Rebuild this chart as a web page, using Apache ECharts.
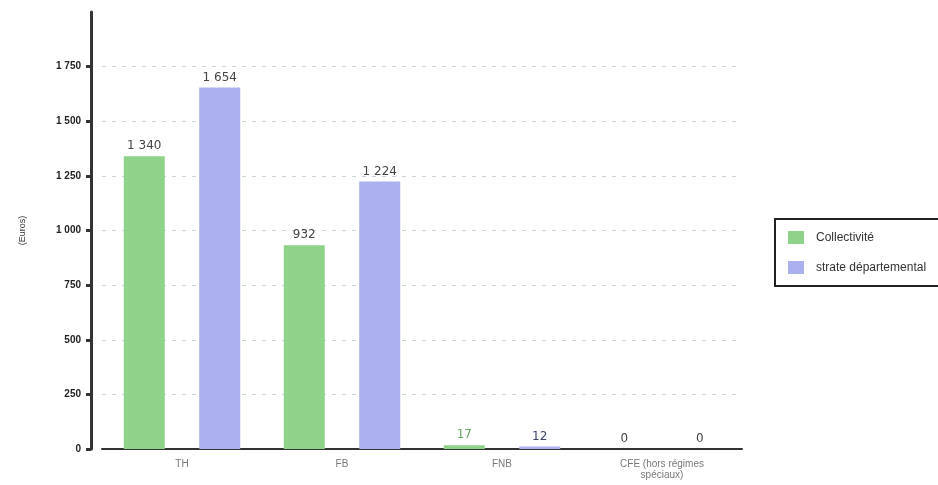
<!DOCTYPE html>
<html>
<head>
<meta charset="utf-8">
<script src="https://cdn.jsdelivr.net/npm/echarts@6/dist/echarts.min.js"></script>
<style>
  html, body { margin: 0; padding: 0; background: #fff; overflow: hidden; }
  #chart { width: 938px; height: 485px; }
</style>
</head>
<body>
<div id="chart"></div>
<script>
// Taxes per inhabitant: commune vs. departmental stratum
const categories = ['TH', 'FB', 'FNB', 'CFE (hors régimes\nspéciaux)'];
const collectivite = [1340, 932, 17, 0];
const strate = [1654, 1224, 12, 0];
const seriesNames = ['Collectivité', 'strate départemental'];

const GREEN = '#8fd38b';
const BLUE = '#abb0ee';
const GRID = '#c9d6d6';

// French-style thousands separator
function fmt(v) {
  return String(v).replace(/\B(?=(\d{3})+(?!\d))/g, ' ');
}

const chart = echarts.init(document.getElementById('chart'), null, { renderer: 'canvas' });

const labelBase = {
  show: true,
  position: 'top',
  distance: 4,
  fontFamily: 'DejaVu Sans',
  fontSize: 12,
  color: '#444',
  formatter: p => fmt(p.value)
};

// Tint labels of near-zero bars with the series tone
function withLabelTint(values, tint) {
  return values.map(v => (v > 0 && v < 100 ? { value: v, label: { color: tint } } : v));
}

chart.setOption({
  animation: false,
  textStyle: { fontFamily: 'Liberation Sans' },
  grid: { left: 102, right: 196, top: 12, bottom: 36, containLabel: false },
  legend: {
    orient: 'vertical',
    left: 775,
    top: 219,
    data: seriesNames,
    icon: 'rect',
    itemWidth: 16,
    itemHeight: 13,
    itemGap: 17,
    borderColor: '#222',
    borderWidth: 2,
    padding: [12, 40, 12, 13],
    textStyle: {
      fontSize: 12,
      color: '#333',
      fontFamily: 'Liberation Sans',
      padding: [0, 0, 0, 7]
    }
  },
  xAxis: {
    type: 'category',
    data: categories,
    axisLine: { show: true, lineStyle: { color: '#333', width: 2 } },
    axisTick: { show: false },
    axisLabel: {
      color: '#777',
      fontSize: 10,
      margin: 10,
      lineHeight: 11,
      fontFamily: 'Liberation Sans'
    }
  },
  yAxis: {
    type: 'value',
    min: 0,
    max: 2000,
    interval: 250,
    offset: 11,
    name: '(Euros)',
    nameLocation: 'middle',
    nameGap: 64,
    nameRotate: 90,
    nameTextStyle: { fontSize: 9, color: '#333' },
    axisLine: { show: true, lineStyle: { color: '#333', width: 3 } },
    axisTick: { show: true, length: 5, lineStyle: { color: '#333', width: 3 } },
    axisLabel: {
      color: '#222',
      fontSize: 10,
      fontWeight: 'bold',
      margin: 10,
      showMaxLabel: false,
      formatter: v => fmt(v)
    },
    splitLine: {
      show: true,
      lineStyle: {
        // no guide line at the top edge
        color: [GRID, GRID, GRID, GRID, GRID, GRID, GRID, GRID, 'rgba(0,0,0,0)'],
        type: [4, 6],
        width: 1
      }
    }
  },
  series: [
    {
      name: seriesNames[0],
      type: 'bar',
      data: withLabelTint(collectivite, '#6aa866'),
      barWidth: 41,
      barGap: '84%',
      itemStyle: { color: GREEN },
      label: labelBase
    },
    {
      name: seriesNames[1],
      type: 'bar',
      data: withLabelTint(strate, '#3a3f66'),
      barWidth: 41,
      barGap: '84%',
      itemStyle: { color: BLUE },
      label: labelBase
    }
  ]
});
</script>
</body>
</html>
